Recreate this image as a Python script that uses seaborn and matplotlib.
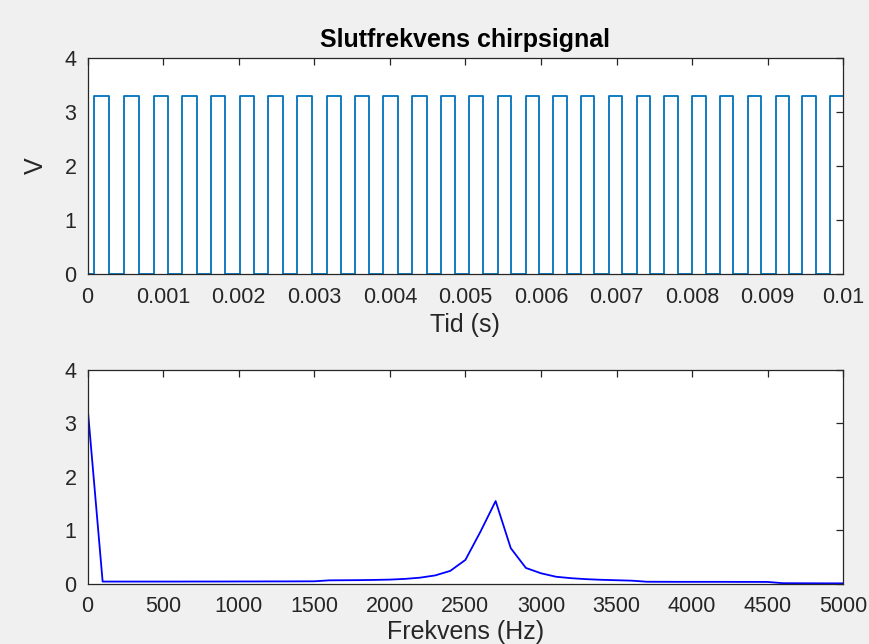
import numpy as np
import pandas as pd
import matplotlib
matplotlib.use("Agg")
import matplotlib.pyplot as plt
import seaborn as sns

# ---- data ----
# square-wave transitions (ms)
rise_ms = [0.089, 0.489, 0.873, 1.249, 1.632, 2.020, 2.394, 2.778, 3.167, 3.541,
           3.915, 4.299, 4.675, 5.053, 5.429, 5.799, 6.164, 6.530, 6.901, 7.267,
           7.632, 8.003, 8.369, 8.735, 9.106, 9.458, 9.824]
fall_ms = [0.283, 0.675, 1.063, 1.447, 1.821, 2.209, 2.593, 2.976, 3.356, 3.730,
           4.114, 4.489, 4.864, 5.238, 5.605, 5.975, 6.341, 6.706, 7.077, 7.443,
           7.810, 8.180, 8.545, 8.911, 9.282, 9.635]
high_level = 3.3
low_level = 0.0
t_end_ms = 10.0

# spectrum (100 Hz bins)
freq_hz = [0, 100, 200, 300, 400, 500, 600, 700, 800, 900, 1000,
           1100, 1200, 1300, 1400, 1500, 1600, 1700, 1800, 1900, 2000,
           2100, 2200, 2300, 2400, 2500, 2600, 2700, 2800, 2900, 3000,
           3100, 3200, 3300, 3400, 3500, 3600, 3700, 3800, 3900, 4000,
           4100, 4200, 4300, 4400, 4500, 4600, 4700, 4800, 4900, 5000]
amp = [3.32, 0.045, 0.045, 0.045, 0.045, 0.045, 0.045, 0.046, 0.046, 0.046, 0.047,
       0.047, 0.048, 0.048, 0.049, 0.05, 0.068, 0.07, 0.072, 0.076, 0.082,
       0.095, 0.118, 0.16, 0.245, 0.45, 0.98, 1.55, 0.67, 0.30, 0.20,
       0.135, 0.108, 0.09, 0.078, 0.07, 0.062, 0.042, 0.041, 0.04, 0.04,
       0.04, 0.04, 0.039, 0.039, 0.038, 0.015, 0.014, 0.013, 0.012, 0.012]

top_xticks = [0, 0.001, 0.002, 0.003, 0.004, 0.005, 0.006, 0.007, 0.008, 0.009, 0.01]
top_xticklabels = ["0", "0.001", "0.002", "0.003", "0.004", "0.005", "0.006",
                   "0.007", "0.008", "0.009", "0.01"]
bot_xticks = [0, 500, 1000, 1500, 2000, 2500, 3000, 3500, 4000, 4500, 5000]
yticks = [0, 1, 2, 3, 4]

title = "Slutfrekvens chirpsignal"
top_xlabel = "Tid (s)"
top_ylabel = "V"
bot_xlabel = "Frekvens (Hz)"

# ---- build step series ----
times = [0.0]
levels = [low_level]
for i, r in enumerate(rise_ms):
    times.append(r / 1000.0)
    levels.append(high_level)
    if i < len(fall_ms):
        times.append(fall_ms[i] / 1000.0)
        levels.append(low_level)
times.append(t_end_ms / 1000.0)
levels.append(levels[-1])
sig = pd.DataFrame({"t": times, "v": levels})
spec = pd.DataFrame({"f": freq_hz, "a": amp})

# ---- style ----
sns.set_style("white")
plt.rcParams["font.family"] = ["Liberation Sans", "DejaVu Sans"]
axc = "#262626"

fig = plt.figure(figsize=(8.7, 6.44), dpi=100, facecolor="#f0f0f0")
ax1 = fig.add_axes([0.1006, 0.5745, 0.8687, 0.3355])
ax2 = fig.add_axes([0.1006, 0.0932, 0.8687, 0.3323])

sns.lineplot(data=sig, x="t", y="v", ax=ax1, drawstyle="steps-post",
             estimator=None, sort=False, color="#0072BD", linewidth=1.3)
sns.lineplot(data=spec, x="f", y="a", ax=ax2, estimator=None, sort=False,
             color="#0000FF", linewidth=1.3)

ax1.set_xlim(0, 0.01)
ax1.set_ylim(0, 4)
ax1.set_xticks(top_xticks)
ax1.set_xticklabels(top_xticklabels)
ax1.set_yticks(yticks)
ax1.set_title(title, fontsize=18, fontweight="bold", color="black", pad=8)
ax1.set_xlabel(top_xlabel, fontsize=18, color=axc, labelpad=4)
ax1.set_ylabel(top_ylabel, fontsize=18, color=axc, labelpad=12)

ax2.set_xlim(0, 5000)
ax2.set_ylim(0, 4)
ax2.set_xticks(bot_xticks)
ax2.set_yticks(yticks)
ax2.set_xlabel(bot_xlabel, fontsize=18, color=axc, labelpad=2)
ax2.set_ylabel("")

for ax in (ax1, ax2):
    ax.set_facecolor("white")
    for s in ax.spines.values():
        s.set_color(axc)
        s.set_linewidth(0.9)
        s.set_visible(True)
    ax.tick_params(direction="in", length=5, width=0.9, color=axc,
                   top=True, right=True, labelsize=15.5, labelcolor=axc)
    ax.tick_params(axis="x", pad=9)
    ax.tick_params(axis="y", pad=8)

fig.savefig("out.png", dpi=100, facecolor=fig.get_facecolor())
